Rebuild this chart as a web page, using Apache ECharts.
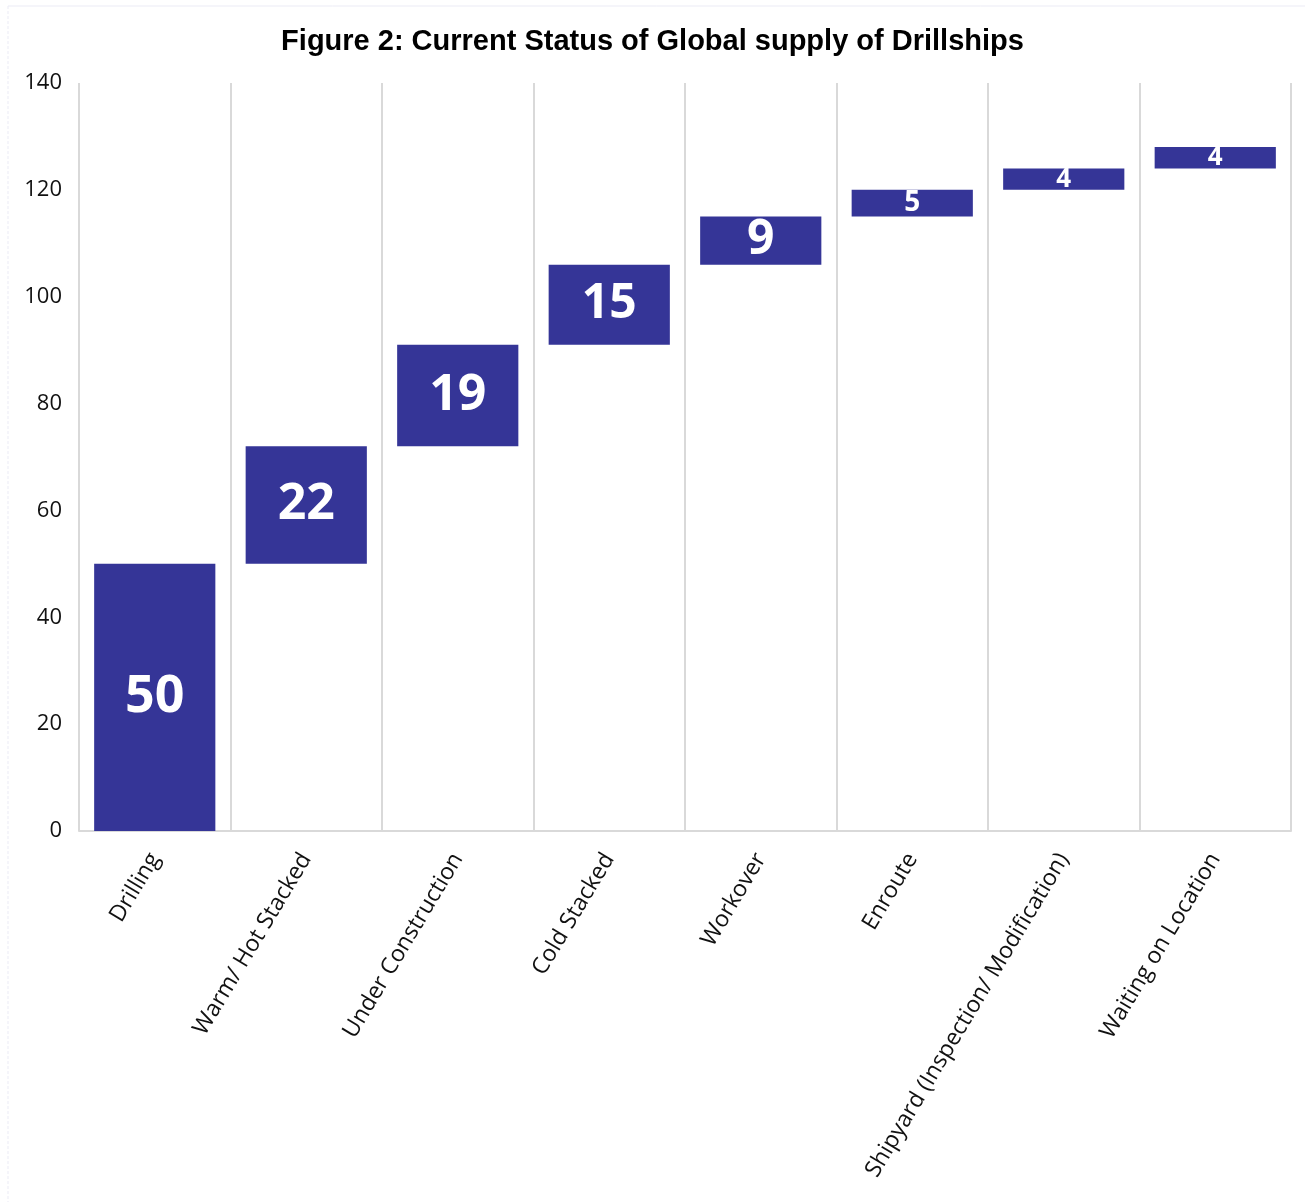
<!DOCTYPE html>
<html>
<head>
<meta charset="utf-8">
<script src="https://cdn.jsdelivr.net/npm/echarts@6/dist/echarts.min.js"></script>
<style>
html,body{margin:0;padding:0;background:#fff;}
#chart{width:1305px;height:1202px;}
</style>
</head>
<body>
<div id="chart"></div>
<script>
const categories = ["Drilling","Warm/ Hot Stacked","Under Construction","Cold Stacked","Workover","Enroute","Shipyard (Inspection/ Modification)","Waiting on Location"];
const values = [50, 22, 19, 15, 9, 5, 4, 4];
const yTicks = [0, 20, 40, 60, 80, 100, 120, 140];
const labelSizes = [52, 50, 50, 48, 48, 28, 26, 26];

const bases = [];
let run = 0;
values.forEach(v => { bases.push(run); run += v; });

const chart = echarts.init(document.getElementById('chart'));
chart.setOption({
  backgroundColor: '#fff',
  animation: false,
  title: {
    text: 'Figure 2: Current Status of Global supply of Drillships',
    left: 'center',
    top: 22,
    textStyle: { fontFamily: 'Liberation Sans', fontWeight: 'bold', fontSize: 29, color: '#000' }
  },
  graphic: [
    { type: 'line', shape: { x1: 8, y1: 6, x2: 1305, y2: 6 }, style: { stroke: '#ebebf5', lineWidth: 1 } },
    { type: 'line', shape: { x1: 8, y1: 6, x2: 8, y2: 1202 }, style: { stroke: '#ebebf5', lineWidth: 1, lineDash: [3, 2] } }
  ],
  grid: { left: 79, right: 14, top: 83, bottom: 371, containLabel: false },
  xAxis: {
    type: 'category',
    data: categories,
    boundaryGap: true,
    axisTick: { show: false },
    axisLine: { lineStyle: { color: '#d9d9d9', width: 2 } },
    splitLine: { show: true, lineStyle: { color: '#d9d9d9', width: 2 } },
    axisLabel: { rotate: 59, interval: 0, fontSize: 23, color: '#111', fontFamily: 'Open Sans', margin: 24 }
  },
  yAxis: {
    type: 'value',
    min: yTicks[0],
    max: yTicks[yTicks.length - 1],
    interval: yTicks[1] - yTicks[0],
    axisLine: { show: false },
    axisTick: { show: false },
    splitLine: { show: false },
    axisLabel: { fontSize: 22, color: '#111', fontFamily: 'Open Sans', margin: 17 }
  },
  series: [
    {
      type: 'bar',
      stack: 'wf',
      data: bases,
      itemStyle: { color: 'transparent' },
      barWidth: '80%',
      silent: true
    },
    {
      type: 'bar',
      stack: 'wf',
      barWidth: '80%',
      data: values.map((v, i) => ({
        value: v,
        label: { fontSize: labelSizes[i] }
      })),
      itemStyle: { color: '#353597' },
      label: {
        show: true,
        position: 'inside',
        color: '#fff',
        fontWeight: 'bold',
        fontFamily: 'Open Sans'
      }
    }
  ]
});
</script>
</body>
</html>
